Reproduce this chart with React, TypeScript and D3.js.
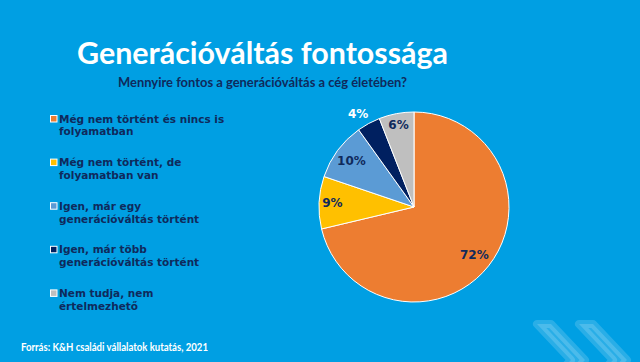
import React, { useEffect, useRef } from 'react';
import * as d3 from 'd3';

const categories = [
  ['Még nem történt és nincs is', 'folyamatban'],
  ['Még nem történt, de', 'folyamatban van'],
  ['Igen, már egy', 'generációváltás történt'],
  ['Igen, már több', 'generációváltás történt'],
  ['Nem tudja, nem', 'értelmezhető'],
];
const values = [72, 9, 10, 4, 6];
const colors = ['#ED7D31', '#FFC000', '#5B9BD5', '#002060', '#BFBFBF'];
const labelColors = ['#0F2A5C', '#0F2A5C', '#0F2A5C', '#FFFFFF', '#0F2A5C'];

const W = 640, H = 362;
const BG = '#009FE3';
const NAVY = '#0F2A5C';

export default function App() {
  const ref = useRef<SVGSVGElement>(null);

  useEffect(() => {
    const svg = d3.select(ref.current);
    svg.selectAll('*').remove();

    svg.append('rect').attr('width', W).attr('height', H).attr('fill', BG);

    // decorative chevrons bottom right
    [533, 575].forEach(x0 => {
      svg.append('path')
        .attr('d', `M${x0 + 4},${324} L${x0 + 18},${324} L${x0 + 52},${360} L${x0 + 18},${396} L${x0 + 4},${396} L${x0 + 38},${360} Z`)
        .attr('fill', 'rgba(255,255,255,0.16)')
        .attr('stroke', 'rgba(255,255,255,0.16)')
        .attr('stroke-width', 8)
        .attr('stroke-linejoin', 'round');
    });

    // title
    svg.append('text')
      .attr('x', 77).attr('y', 64)
      .attr('fill', '#fff')
      .attr('font-family', 'Lato')
      .attr('font-weight', 700)
      .attr('font-size', 30)
      .attr('textLength', 371)
      .attr('lengthAdjust', 'spacingAndGlyphs')
      .text('Generációváltás fontossága');

    svg.append('text')
      .attr('x', 118).attr('y', 87)
      .attr('fill', NAVY)
      .attr('font-family', 'Lato')
      .attr('font-weight', 700)
      .attr('font-size', 13.5)
      .attr('textLength', 289)
      .attr('lengthAdjust', 'spacingAndGlyphs')
      .text('Mennyire fontos a generációváltás a cég életében?');

    // legend
    const lg = svg.append('g');
    categories.forEach((lines, i) => {
      const y = 119 + i * 43.6;
      lg.append('rect')
        .attr('x', 50.5).attr('y', y - 3.5)
        .attr('width', 6.5).attr('height', 6.5)
        .attr('fill', colors[i])
        .attr('stroke', '#fff').attr('stroke-width', 1);
      lines.forEach((t, j) => {
        lg.append('text')
          .attr('x', 59).attr('y', y + 3.5 + j * 12.9)
          .attr('fill', NAVY)
          .attr('font-family', 'DejaVu Sans')
          .attr('font-weight', 700)
          .attr('font-size', 10.5)
          .text(t);
      });
    });

    // pie
    const cx = 414, cy = 207, r = 95;
    const pie = d3.pie<number>().sort(null).value(d => d);
    const arcs = pie(values);
    const arc = d3.arc<d3.PieArcDatum<number>>().innerRadius(0).outerRadius(r);
    const g = svg.append('g').attr('transform', `translate(${cx},${cy})`);
    g.selectAll('path')
      .data(arcs)
      .enter().append('path')
      .attr('d', arc)
      .attr('fill', (d, i) => colors[i])
      .attr('stroke', '#fff')
      .attr('stroke-width', 1);

    const labelR = [0.81, 0.86, 0.82, 1.12, 0.88];
    const nudgeX = [0, 0, 0, -5, 0];
    g.selectAll('.lbl')
      .data(arcs)
      .enter().append('text')
      .attr('transform', (d, i) => {
        const a = (d.startAngle + d.endAngle) / 2;
        const rr = r * labelR[i];
        return `translate(${Math.sin(a) * rr + nudgeX[i]},${-Math.cos(a) * rr})`;
      })
      .attr('dy', '.35em')
      .attr('text-anchor', 'middle')
      .attr('fill', (d, i) => labelColors[i])
      .attr('font-family', 'DejaVu Sans')
      .attr('font-weight', 700)
      .attr('font-size', 12)
      .text(d => `${d.data}%`);

    // footer
    svg.append('text')
      .attr('x', 21).attr('y', 351)
      .attr('fill', '#fff')
      .attr('font-family', 'Lato')
      .attr('font-weight', 700)
      .attr('font-size', 11)
      .attr('textLength', 187)
      .attr('lengthAdjust', 'spacingAndGlyphs')
      .text('Forrás: K&H családi vállalatok kutatás, 2021');
  }, []);

  return (
    <div style={{ position: 'fixed', left: 0, top: 0 }}>
      <svg ref={ref} width={W} height={H} style={{ display: 'block' }} />
    </div>
  );
}
